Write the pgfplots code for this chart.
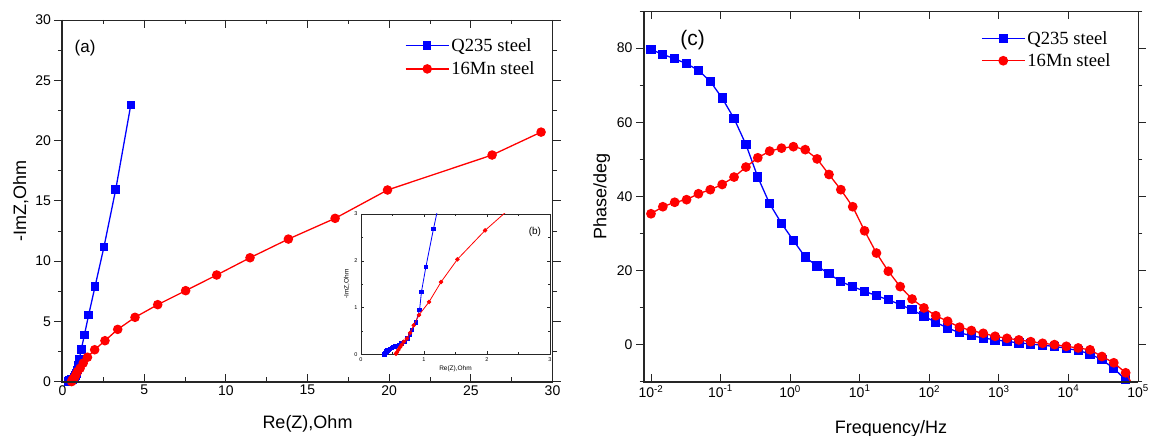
\documentclass[border=0pt]{standalone}
\usepackage{pgfplots}
\usepackage{pgfplotstable}
\pgfplotsset{compat=1.18}
\usepackage{fontspec}
\setmainfont{Liberation Sans}
\newfontfamily\legfont{Liberation Serif}

\pgfplotstableread{
x y
0.37 0.00
0.385 0.035
0.40 0.06
0.42 0.08
0.44 0.10
0.46 0.12
0.49 0.14
0.51 0.16
0.54 0.17
0.57 0.18
0.60 0.20
0.64 0.23
0.69 0.27
0.735 0.34
0.78 0.41
0.81 0.52
0.87 0.68
0.93 0.95
0.96 1.34
1.03 1.87
1.15 2.68
1.34 3.87
1.60 5.53
1.99 7.88
2.54 11.19
3.26 15.95
4.18 22.95
}\nyqQ

\pgfplotstableread{
x y
0.556 0.01
0.567 0.04
0.593 0.095
0.62 0.15
0.645 0.20
0.68 0.27
0.73 0.34
0.78 0.46
0.836 0.62
0.92 0.84
1.08 1.12
1.27 1.545
1.53 2.03
1.97 2.65
2.60 3.40
3.38 4.34
4.44 5.34
5.83 6.39
7.54 7.55
9.44 8.85
11.48 10.28
13.83 11.83
16.69 13.55
19.9 15.9
26.3 18.8
29.3 20.7
}\nyqM

\pgfplotstableread{
f q m
0.01 79.6 35.3
0.01481 78.3 37.2
0.02193 77.1 38.4
0.03248 75.8 39.1
0.04810 74.0 40.7
0.07124 71.0 41.8
0.1055 66.5 43.2
0.1563 61.0 45.2
0.2314 54.0 47.9
0.3428 45.2 50.4
0.5077 38.0 52.2
0.7519 32.7 53.0
1.114 28.1 53.4
1.649 23.6 52.6
2.442 21.2 50.1
3.617 19.1 45.9
5.357 17.0 41.8
7.934 15.65 37.2
11.75 14.4 30.7
17.40 13.2 24.7
25.77 12.1 19.8
38.17 10.8 15.65
56.53 9.4 12.3
83.72 7.7 9.9
124.0 6.0 7.8
183.6 4.5 6.3
272.0 3.2 4.7
402.8 2.4 3.8
596.6 1.8 3.05
883.5 1.27 2.25
1309 0.9 1.7
1938 0.45 1.27
2870 0.2 0.8
4251 -0.2 0.36
6296 -0.45 0.0
9325 -1.0 -0.45
13810 -1.6 -0.9
20450 -2.5 -1.4
30290 -4.1 -3.2
44860 -6.4 -4.9
66440 -9.5 -7.6
98400 -14.0 -13.2
}\bode

\pgfplotsset{
  base/.style={
    scale only axis, clip mode=individual,
    tick align=inside, ytick align=outside,
    axis line style={line width=0.9pt, black!85},
    every tick/.append style={black!85, line width=0.9pt},
    /pgf/number format/assume math mode=true,
    legend cell align=left,
    legend image code/.code={\draw[mark repeat=2,mark phase=2,##1] plot coordinates {(0pt,0pt) (21.5pt,0pt) (43pt,0pt)};},
  },
  bq/.style={color=blue, line width=1.3pt, mark=square*, mark size=3.6pt, mark options={solid}},
  rm/.style={color=red, line width=1.3pt, mark=*, mark size=4.1pt, mark options={solid}},
}

\begin{document}
\begin{tikzpicture}[x=1pt,y=1pt]
\useasboundingbox (0,0) rectangle (1149,436);
% ---------- (a) Nyquist ----------
\begin{axis}[base,
  at={(62.5pt,54.3pt)}, anchor=south west,
  width=490pt, height=361.7pt,
  xmin=0, xmax=30, ymin=0, ymax=30,
  xtick={0,5,...,30}, ytick={0,5,...,30}, minor tick num=1,
  major tick length=8pt, minor tick length=4.5pt,
  tick label style={font=\fontsize{14}{16}\selectfont},
  xlabel={Re(Z),Ohm}, ylabel={-ImZ,Ohm},
  label style={font=\fontsize{18}{20}\selectfont},
  xlabel style={yshift=-13pt},
  legend style={draw=none, fill=none, at={(0.974,0.961)}, anchor=north east,
    font=\legfont\fontsize{18.6}{21}\selectfont, row sep=5pt},
]
\addplot[bq] table[x=x,y=y] {\nyqQ};
\addlegendentry{Q235 steel}
\addplot[rm] table[x=x,y=y] {\nyqM};
\addlegendentry{16Mn steel}
\node[font=\fontsize{17}{19}\selectfont] at (axis cs:1.38,27.67) {(a)};
\draw[line width=2pt, black!85] (rel axis cs:0,1) -- (rel axis cs:0,0) -- (rel axis cs:1,0);
\end{axis}
% ---------- (b) inset ----------
\begin{axis}[base,
  at={(361pt,81.7pt)}, anchor=south west,
  width=189pt, height=140.3pt,
  xmin=0, xmax=3, ymin=0, ymax=3,
  xtick={0,1,2,3}, ytick={0,1,2,3}, minor tick num=1,
  tick align=inside,
  major tick length=3pt, minor tick length=1.8pt,
  axis line style={line width=0.6pt, black!85},
  every tick/.append style={line width=0.5pt},
  axis background/.style={fill=white},
  tick label style={font=\fontsize{5.5}{6}\selectfont},
  xlabel={Re(Z),Ohm}, ylabel={-ImZ,Ohm},
  label style={font=\fontsize{6.5}{7}\selectfont},
  xlabel style={yshift=3pt}, ylabel style={yshift=-2pt},
]
\addplot[bq, line width=0.8pt, mark size=1.7pt] table[x=x,y=y] {\nyqQ};
\addplot[rm, line width=0.8pt, mark size=1.8pt] table[x=x,y=y] {\nyqM};
\node[font=\fontsize{10}{12}\selectfont] at (axis cs:2.76,2.61) {(b)};
\end{axis}
% ---------- (c) Bode phase ----------
\begin{axis}[base,
  at={(644pt,54.3pt)}, anchor=south west,
  width=494pt, height=370.7pt,
  xmode=log, log basis x=10,
  xmin=0.00794, xmax=100000, ymin=-10, ymax=90,
  xtick={0.01,0.1,1,10,100,1000,10000,100000},
  xticklabels={10\textsuperscript{-2},10\textsuperscript{-1},10\textsuperscript{0},10\textsuperscript{1},10\textsuperscript{2},10\textsuperscript{3},10\textsuperscript{4},10\textsuperscript{5}},
  ytick={0,20,...,80}, minor ytick={-10,10,30,50,70,90},
  major tick length=8pt, minor tick length=4.5pt,
  tick label style={font=\fontsize{14}{16}\selectfont},
  xlabel={Frequency/Hz}, ylabel={Phase/deg},
  label style={font=\fontsize{18}{20}\selectfont},
  xlabel style={yshift=-16pt},
  legend style={draw=none, fill=none, at={(0.955,0.957)}, anchor=north east,
    font=\legfont\fontsize{18.6}{21}\selectfont, row sep=4pt},
]
\addplot[bq, mark size=4pt] table[x=f,y=q] {\bode};
\addlegendentry{Q235 steel}
\addplot[rm, mark size=4.2pt] table[x=f,y=m] {\bode};
\addlegendentry{16Mn steel}
\node[font=\fontsize{21}{24}\selectfont] at (axis cs:0.0398,82.05) {(c)};
\draw[line width=2pt, black!85] (rel axis cs:0,1) -- (rel axis cs:0,0) -- (rel axis cs:1,0);
\end{axis}
\end{tikzpicture}
\end{document}
